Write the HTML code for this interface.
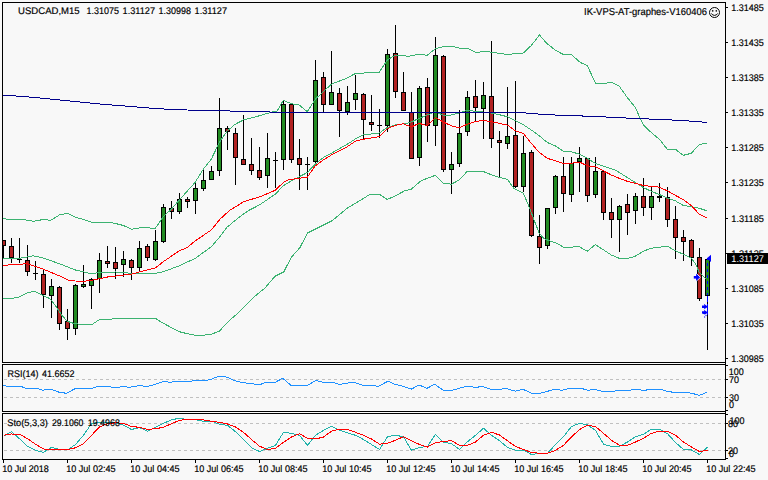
<!DOCTYPE html>
<html lang="en"><head><meta charset="utf-8"><title>USDCAD,M15</title>
<style>html,body{margin:0;padding:0;background:#f8f8f8;}body{width:768px;height:480px;overflow:hidden;}svg{display:block;}text{font-family:"Liberation Sans",sans-serif;font-size:9.6px;fill:#000;stroke:#000;stroke-width:0.18px;text-rendering:geometricPrecision;}</style>
</head><body>
<svg width="768" height="480" viewBox="0 0 768 480">
<rect x="0" y="0" width="768" height="480" fill="#f8f8f8"/>
<g shape-rendering="crispEdges">
<line x1="4" y1="379.5" x2="725" y2="379.5" stroke="#c0c0c0" stroke-width="1" stroke-dasharray="3 3"/>
<line x1="4" y1="397.5" x2="725" y2="397.5" stroke="#c0c0c0" stroke-width="1" stroke-dasharray="3 3"/>
<line x1="4" y1="423.5" x2="725" y2="423.5" stroke="#c0c0c0" stroke-width="1" stroke-dasharray="3 3"/>
<line x1="4" y1="450.5" x2="725" y2="450.5" stroke="#c0c0c0" stroke-width="1" stroke-dasharray="3 3"/>
<clipPath id="c"><rect x="3" y="3" width="722" height="359"/></clipPath>
<g clip-path="url(#c)">
<rect x="3" y="240" width="1" height="18" fill="#000"/>
<rect x="1" y="240" width="5" height="6" fill="#000"/>
<rect x="2" y="241" width="3" height="4" fill="#b22222"/>
<rect x="11" y="238" width="1" height="25" fill="#000"/>
<rect x="9" y="246" width="5" height="12" fill="#000"/>
<rect x="10" y="247" width="3" height="10" fill="#b22222"/>
<rect x="19" y="238" width="1" height="25" fill="#000"/>
<rect x="17" y="259" width="5" height="1" fill="#000"/>
<rect x="27" y="245" width="1" height="31" fill="#000"/>
<rect x="25" y="260" width="5" height="12" fill="#000"/>
<rect x="26" y="261" width="3" height="10" fill="#b22222"/>
<rect x="35" y="261" width="1" height="19" fill="#000"/>
<rect x="33" y="273" width="5" height="1" fill="#000"/>
<rect x="43" y="269" width="1" height="39" fill="#000"/>
<rect x="41" y="274" width="5" height="21" fill="#000"/>
<rect x="42" y="275" width="3" height="19" fill="#b22222"/>
<rect x="51" y="279" width="1" height="39" fill="#000"/>
<rect x="49" y="286" width="5" height="10" fill="#000"/>
<rect x="50" y="287" width="3" height="8" fill="#228b22"/>
<rect x="59" y="286" width="1" height="44" fill="#000"/>
<rect x="57" y="287" width="5" height="37" fill="#000"/>
<rect x="58" y="288" width="3" height="35" fill="#b22222"/>
<rect x="67" y="309" width="1" height="31" fill="#000"/>
<rect x="65" y="321" width="5" height="8" fill="#000"/>
<rect x="66" y="322" width="3" height="6" fill="#b22222"/>
<rect x="75" y="284" width="1" height="51" fill="#000"/>
<rect x="73" y="285" width="5" height="44" fill="#000"/>
<rect x="74" y="286" width="3" height="42" fill="#228b22"/>
<rect x="83" y="265" width="1" height="23" fill="#000"/>
<rect x="81" y="284" width="5" height="3" fill="#000"/>
<rect x="82" y="285" width="3" height="1" fill="#228b22"/>
<rect x="91" y="278" width="1" height="31" fill="#000"/>
<rect x="89" y="279" width="5" height="7" fill="#000"/>
<rect x="90" y="280" width="3" height="5" fill="#228b22"/>
<rect x="99" y="253" width="1" height="40" fill="#000"/>
<rect x="97" y="260" width="5" height="19" fill="#000"/>
<rect x="98" y="261" width="3" height="17" fill="#228b22"/>
<rect x="107" y="246" width="1" height="22" fill="#000"/>
<rect x="105" y="261" width="5" height="3" fill="#000"/>
<rect x="106" y="262" width="3" height="1" fill="#b22222"/>
<rect x="115" y="247" width="1" height="32" fill="#000"/>
<rect x="113" y="262" width="5" height="7" fill="#000"/>
<rect x="114" y="263" width="3" height="5" fill="#b22222"/>
<rect x="123" y="251" width="1" height="26" fill="#000"/>
<rect x="121" y="259" width="5" height="6" fill="#000"/>
<rect x="122" y="260" width="3" height="4" fill="#228b22"/>
<rect x="131" y="259" width="1" height="21" fill="#000"/>
<rect x="129" y="260" width="5" height="8" fill="#000"/>
<rect x="130" y="261" width="3" height="6" fill="#b22222"/>
<rect x="139" y="241" width="1" height="31" fill="#000"/>
<rect x="137" y="248" width="5" height="20" fill="#000"/>
<rect x="138" y="249" width="3" height="18" fill="#228b22"/>
<rect x="147" y="244" width="1" height="17" fill="#000"/>
<rect x="145" y="246" width="5" height="12" fill="#000"/>
<rect x="146" y="247" width="3" height="10" fill="#b22222"/>
<rect x="155" y="230" width="1" height="31" fill="#000"/>
<rect x="153" y="241" width="5" height="19" fill="#000"/>
<rect x="154" y="242" width="3" height="17" fill="#228b22"/>
<rect x="163" y="204" width="1" height="39" fill="#000"/>
<rect x="161" y="207" width="5" height="35" fill="#000"/>
<rect x="162" y="208" width="3" height="33" fill="#228b22"/>
<rect x="171" y="201" width="1" height="18" fill="#000"/>
<rect x="169" y="208" width="5" height="4" fill="#000"/>
<rect x="170" y="209" width="3" height="2" fill="#b22222"/>
<rect x="179" y="193" width="1" height="21" fill="#000"/>
<rect x="177" y="199" width="5" height="13" fill="#000"/>
<rect x="178" y="200" width="3" height="11" fill="#228b22"/>
<rect x="187" y="197" width="1" height="11" fill="#000"/>
<rect x="185" y="199" width="5" height="3" fill="#000"/>
<rect x="186" y="200" width="3" height="1" fill="#b22222"/>
<rect x="195" y="181" width="1" height="33" fill="#000"/>
<rect x="193" y="188" width="5" height="13" fill="#000"/>
<rect x="194" y="189" width="3" height="11" fill="#228b22"/>
<rect x="203" y="168" width="1" height="23" fill="#000"/>
<rect x="201" y="180" width="5" height="9" fill="#000"/>
<rect x="202" y="181" width="3" height="7" fill="#228b22"/>
<rect x="211" y="166" width="1" height="14" fill="#000"/>
<rect x="209" y="171" width="5" height="9" fill="#000"/>
<rect x="210" y="172" width="3" height="7" fill="#228b22"/>
<rect x="219" y="98" width="1" height="78" fill="#000"/>
<rect x="217" y="128" width="5" height="43" fill="#000"/>
<rect x="218" y="129" width="3" height="41" fill="#228b22"/>
<rect x="227" y="126" width="1" height="24" fill="#000"/>
<rect x="225" y="128" width="5" height="4" fill="#000"/>
<rect x="226" y="129" width="3" height="2" fill="#b22222"/>
<rect x="235" y="128" width="1" height="57" fill="#000"/>
<rect x="233" y="133" width="5" height="25" fill="#000"/>
<rect x="234" y="134" width="3" height="23" fill="#b22222"/>
<rect x="243" y="115" width="1" height="50" fill="#000"/>
<rect x="241" y="159" width="5" height="6" fill="#000"/>
<rect x="242" y="160" width="3" height="4" fill="#b22222"/>
<rect x="251" y="138" width="1" height="37" fill="#000"/>
<rect x="249" y="164" width="5" height="7" fill="#000"/>
<rect x="250" y="165" width="3" height="5" fill="#b22222"/>
<rect x="259" y="147" width="1" height="33" fill="#000"/>
<rect x="257" y="170" width="5" height="8" fill="#000"/>
<rect x="258" y="171" width="3" height="6" fill="#b22222"/>
<rect x="267" y="133" width="1" height="55" fill="#000"/>
<rect x="265" y="158" width="5" height="18" fill="#000"/>
<rect x="266" y="159" width="3" height="16" fill="#228b22"/>
<rect x="275" y="152" width="1" height="36" fill="#000"/>
<rect x="273" y="160" width="5" height="1" fill="#000"/>
<rect x="283" y="100" width="1" height="70" fill="#000"/>
<rect x="281" y="104" width="5" height="56" fill="#000"/>
<rect x="282" y="105" width="3" height="54" fill="#228b22"/>
<rect x="291" y="103" width="1" height="60" fill="#000"/>
<rect x="289" y="104" width="5" height="56" fill="#000"/>
<rect x="290" y="105" width="3" height="54" fill="#b22222"/>
<rect x="299" y="139" width="1" height="51" fill="#000"/>
<rect x="297" y="158" width="5" height="7" fill="#000"/>
<rect x="298" y="159" width="3" height="5" fill="#b22222"/>
<rect x="307" y="157" width="1" height="33" fill="#000"/>
<rect x="305" y="164" width="5" height="1" fill="#000"/>
<rect x="315" y="60" width="1" height="104" fill="#000"/>
<rect x="313" y="80" width="5" height="82" fill="#000"/>
<rect x="314" y="81" width="3" height="80" fill="#228b22"/>
<rect x="323" y="72" width="1" height="40" fill="#000"/>
<rect x="321" y="77" width="5" height="28" fill="#000"/>
<rect x="322" y="78" width="3" height="26" fill="#b22222"/>
<rect x="331" y="51" width="1" height="54" fill="#000"/>
<rect x="329" y="92" width="5" height="13" fill="#000"/>
<rect x="330" y="93" width="3" height="11" fill="#228b22"/>
<rect x="339" y="88" width="1" height="49" fill="#000"/>
<rect x="337" y="93" width="5" height="18" fill="#000"/>
<rect x="338" y="94" width="3" height="16" fill="#b22222"/>
<rect x="347" y="86" width="1" height="29" fill="#000"/>
<rect x="345" y="102" width="5" height="10" fill="#000"/>
<rect x="346" y="103" width="3" height="8" fill="#228b22"/>
<rect x="355" y="75" width="1" height="35" fill="#000"/>
<rect x="353" y="93" width="5" height="7" fill="#000"/>
<rect x="354" y="94" width="3" height="5" fill="#228b22"/>
<rect x="363" y="93" width="1" height="46" fill="#000"/>
<rect x="361" y="94" width="5" height="26" fill="#000"/>
<rect x="362" y="95" width="3" height="24" fill="#b22222"/>
<rect x="371" y="95" width="1" height="36" fill="#000"/>
<rect x="369" y="122" width="5" height="3" fill="#000"/>
<rect x="370" y="123" width="3" height="1" fill="#b22222"/>
<rect x="379" y="109" width="1" height="29" fill="#000"/>
<rect x="377" y="125" width="5" height="1" fill="#000"/>
<rect x="387" y="49" width="1" height="83" fill="#000"/>
<rect x="385" y="54" width="5" height="72" fill="#000"/>
<rect x="386" y="55" width="3" height="70" fill="#228b22"/>
<rect x="395" y="25" width="1" height="73" fill="#000"/>
<rect x="393" y="53" width="5" height="39" fill="#000"/>
<rect x="394" y="54" width="3" height="37" fill="#b22222"/>
<rect x="403" y="72" width="1" height="39" fill="#000"/>
<rect x="401" y="92" width="5" height="19" fill="#000"/>
<rect x="402" y="93" width="3" height="17" fill="#b22222"/>
<rect x="411" y="92" width="1" height="67" fill="#000"/>
<rect x="409" y="112" width="5" height="47" fill="#000"/>
<rect x="410" y="113" width="3" height="45" fill="#b22222"/>
<rect x="419" y="86" width="1" height="80" fill="#000"/>
<rect x="417" y="88" width="5" height="70" fill="#000"/>
<rect x="418" y="89" width="3" height="68" fill="#228b22"/>
<rect x="427" y="78" width="1" height="64" fill="#000"/>
<rect x="425" y="87" width="5" height="39" fill="#000"/>
<rect x="426" y="88" width="3" height="37" fill="#b22222"/>
<rect x="435" y="37" width="1" height="109" fill="#000"/>
<rect x="433" y="55" width="5" height="71" fill="#000"/>
<rect x="434" y="56" width="3" height="69" fill="#228b22"/>
<rect x="443" y="55" width="1" height="117" fill="#000"/>
<rect x="441" y="56" width="5" height="114" fill="#000"/>
<rect x="442" y="57" width="3" height="112" fill="#b22222"/>
<rect x="451" y="152" width="1" height="42" fill="#000"/>
<rect x="449" y="164" width="5" height="6" fill="#000"/>
<rect x="450" y="165" width="3" height="4" fill="#228b22"/>
<rect x="459" y="110" width="1" height="57" fill="#000"/>
<rect x="457" y="133" width="5" height="31" fill="#000"/>
<rect x="458" y="134" width="3" height="29" fill="#228b22"/>
<rect x="467" y="91" width="1" height="45" fill="#000"/>
<rect x="465" y="97" width="5" height="35" fill="#000"/>
<rect x="466" y="98" width="3" height="33" fill="#228b22"/>
<rect x="475" y="80" width="1" height="41" fill="#000"/>
<rect x="473" y="96" width="5" height="12" fill="#000"/>
<rect x="474" y="97" width="3" height="10" fill="#b22222"/>
<rect x="483" y="82" width="1" height="57" fill="#000"/>
<rect x="481" y="95" width="5" height="14" fill="#000"/>
<rect x="482" y="96" width="3" height="12" fill="#228b22"/>
<rect x="491" y="41" width="1" height="107" fill="#000"/>
<rect x="489" y="96" width="5" height="43" fill="#000"/>
<rect x="490" y="97" width="3" height="41" fill="#b22222"/>
<rect x="499" y="131" width="1" height="47" fill="#000"/>
<rect x="497" y="140" width="5" height="3" fill="#000"/>
<rect x="498" y="141" width="3" height="1" fill="#b22222"/>
<rect x="507" y="87" width="1" height="62" fill="#000"/>
<rect x="505" y="136" width="5" height="8" fill="#000"/>
<rect x="506" y="137" width="3" height="6" fill="#228b22"/>
<rect x="515" y="81" width="1" height="107" fill="#000"/>
<rect x="513" y="135" width="5" height="52" fill="#000"/>
<rect x="514" y="136" width="3" height="50" fill="#b22222"/>
<rect x="523" y="136" width="1" height="56" fill="#000"/>
<rect x="521" y="153" width="5" height="34" fill="#000"/>
<rect x="522" y="154" width="3" height="32" fill="#228b22"/>
<rect x="531" y="150" width="1" height="87" fill="#000"/>
<rect x="529" y="152" width="5" height="84" fill="#000"/>
<rect x="530" y="153" width="3" height="82" fill="#b22222"/>
<rect x="539" y="215" width="1" height="49" fill="#000"/>
<rect x="537" y="236" width="5" height="12" fill="#000"/>
<rect x="538" y="237" width="3" height="10" fill="#b22222"/>
<rect x="547" y="208" width="1" height="41" fill="#000"/>
<rect x="545" y="208" width="5" height="38" fill="#000"/>
<rect x="546" y="209" width="3" height="36" fill="#228b22"/>
<rect x="555" y="175" width="1" height="39" fill="#000"/>
<rect x="553" y="176" width="5" height="32" fill="#000"/>
<rect x="554" y="177" width="3" height="30" fill="#228b22"/>
<rect x="563" y="157" width="1" height="55" fill="#000"/>
<rect x="561" y="176" width="5" height="18" fill="#000"/>
<rect x="562" y="177" width="3" height="16" fill="#b22222"/>
<rect x="571" y="157" width="1" height="45" fill="#000"/>
<rect x="569" y="163" width="5" height="32" fill="#000"/>
<rect x="570" y="164" width="3" height="30" fill="#228b22"/>
<rect x="579" y="147" width="1" height="45" fill="#000"/>
<rect x="577" y="158" width="5" height="4" fill="#000"/>
<rect x="578" y="159" width="3" height="2" fill="#228b22"/>
<rect x="587" y="158" width="1" height="44" fill="#000"/>
<rect x="585" y="158" width="5" height="38" fill="#000"/>
<rect x="586" y="159" width="3" height="36" fill="#b22222"/>
<rect x="595" y="157" width="1" height="41" fill="#000"/>
<rect x="593" y="171" width="5" height="24" fill="#000"/>
<rect x="594" y="172" width="3" height="22" fill="#228b22"/>
<rect x="603" y="170" width="1" height="50" fill="#000"/>
<rect x="601" y="171" width="5" height="42" fill="#000"/>
<rect x="602" y="172" width="3" height="40" fill="#b22222"/>
<rect x="611" y="198" width="1" height="40" fill="#000"/>
<rect x="609" y="212" width="5" height="8" fill="#000"/>
<rect x="610" y="213" width="3" height="6" fill="#b22222"/>
<rect x="619" y="205" width="1" height="47" fill="#000"/>
<rect x="617" y="206" width="5" height="14" fill="#000"/>
<rect x="618" y="207" width="3" height="12" fill="#228b22"/>
<rect x="627" y="194" width="1" height="41" fill="#000"/>
<rect x="625" y="204" width="5" height="9" fill="#000"/>
<rect x="626" y="205" width="3" height="7" fill="#b22222"/>
<rect x="635" y="193" width="1" height="31" fill="#000"/>
<rect x="633" y="196" width="5" height="15" fill="#000"/>
<rect x="634" y="197" width="3" height="13" fill="#228b22"/>
<rect x="643" y="178" width="1" height="38" fill="#000"/>
<rect x="641" y="196" width="5" height="12" fill="#000"/>
<rect x="642" y="197" width="3" height="10" fill="#b22222"/>
<rect x="651" y="187" width="1" height="33" fill="#000"/>
<rect x="649" y="196" width="5" height="12" fill="#000"/>
<rect x="650" y="197" width="3" height="10" fill="#228b22"/>
<rect x="659" y="183" width="1" height="19" fill="#000"/>
<rect x="657" y="196" width="5" height="2" fill="#000"/>
<rect x="667" y="187" width="1" height="40" fill="#000"/>
<rect x="665" y="197" width="5" height="23" fill="#000"/>
<rect x="666" y="198" width="3" height="21" fill="#b22222"/>
<rect x="675" y="206" width="1" height="53" fill="#000"/>
<rect x="673" y="219" width="5" height="19" fill="#000"/>
<rect x="674" y="220" width="3" height="17" fill="#b22222"/>
<rect x="683" y="230" width="1" height="31" fill="#000"/>
<rect x="681" y="237" width="5" height="5" fill="#000"/>
<rect x="682" y="238" width="3" height="3" fill="#b22222"/>
<rect x="691" y="239" width="1" height="27" fill="#000"/>
<rect x="689" y="240" width="5" height="18" fill="#000"/>
<rect x="690" y="241" width="3" height="16" fill="#b22222"/>
<rect x="699" y="248" width="1" height="53" fill="#000"/>
<rect x="697" y="257" width="5" height="42" fill="#000"/>
<rect x="698" y="258" width="3" height="40" fill="#b22222"/>
<rect x="707" y="258" width="1" height="92" fill="#000"/>
<rect x="705" y="259" width="5" height="37" fill="#000"/>
<rect x="706" y="260" width="3" height="35" fill="#228b22"/>
<polyline points="3.3,218.3 8.3,219.5 23.3,219.5 33.3,221.3 43.3,219.5 50.8,220.3 59.3,215.0 67.3,213.3 75.3,217.2 83.3,219.5 91.3,222.2 110.0,222.2 118.3,224.2 123.5,225.5 131.7,229.2 141.7,227.5 155.3,228.3 163.3,216.7 171.3,209.2 179.3,200.0 195.0,182.5 203.3,169.2 211.3,159.2 219.3,142.5 227.3,130.8 235.3,124.2 243.3,120.0 259.3,115.8 272.0,112.0 277.0,111.3 283.3,100.3 291.3,103.7 299.3,105.0 307.3,111.7 315.3,99.2 323.3,91.7 331.3,84.2 347.3,78.0 355.3,73.5 379.3,72.2 387.3,60.0 395.3,55.0 408.7,56.3 419.3,54.2 427.3,55.3 435.3,48.7 442.0,47.0 451.3,46.2 459.3,48.0 468.7,48.7 476.2,52.5 485.3,51.3 497.0,53.0 507.0,54.5 523.3,53.0 531.3,45.5 539.5,35.0 544.5,40.8 548.7,45.0 555.3,50.0 563.3,54.5 571.3,54.5 580.3,62.5 587.3,65.5 595.3,83.0 605.3,83.3 611.3,82.2 619.3,86.3 627.3,97.5 635.3,107.5 643.3,125.0 651.3,132.5 659.3,139.2 667.3,149.2 675.3,149.2 683.3,155.3 691.3,153.3 699.3,144.5 707.0,143.3" fill="none" stroke="#3cb371" stroke-width="1"/>
<polyline points="3.3,298.3 14.2,298.0 20.0,296.7 27.5,292.8 34.5,291.2 41.7,295.0 50.0,298.7 55.0,305.0 61.7,315.0 67.3,321.3 73.3,323.3 81.7,324.7 91.3,325.0 99.5,319.5 116.7,318.8 128.0,318.3 155.3,318.3 163.3,323.3 171.3,327.5 179.3,331.7 187.3,333.7 195.3,335.3 203.3,335.3 211.3,334.2 219.3,331.2 225.0,325.0 230.0,320.0 236.7,314.2 243.3,308.0 255.0,296.2 265.0,288.0 275.0,276.2 283.8,271.8 291.2,257.5 300.0,247.5 307.5,233.0 320.0,226.8 332.5,220.5 347.5,208.0 357.5,202.0 370.3,194.2 379.3,194.2 387.3,199.5 395.3,195.8 405.3,190.5 411.3,189.2 421.0,180.8 427.3,178.3 435.3,175.3 443.3,183.3 451.3,184.2 459.3,180.0 467.3,171.3 483.7,171.7 491.3,174.7 499.3,177.5 507.3,179.2 513.7,188.3 523.3,193.3 528.7,205.8 535.3,223.3 539.3,233.3 543.7,238.3 550.3,241.3 555.3,242.5 563.3,247.0 573.3,247.0 578.3,246.2 587.3,251.2 595.3,244.7 603.3,249.7 611.3,255.0 619.3,258.3 628.3,258.3 635.3,256.2 643.3,251.2 651.3,248.3 667.3,246.2 675.3,250.8 683.3,254.2 691.3,258.3 695.3,263.3 699.3,272.5 705.3,278.3 707.3,277.5" fill="none" stroke="#3cb371" stroke-width="1"/>
<polyline points="3.3,258.7 19.5,258.3 33.3,255.8 43.3,258.0 59.3,263.7 75.5,270.0 91.3,273.7 99.5,272.5 115.5,272.0 128.0,273.0 136.7,273.3 155.3,273.3 163.3,271.7 179.3,265.8 195.3,258.3 211.3,246.7 220.0,236.7 226.7,227.5 236.7,219.2 248.0,210.8 259.3,205.0 275.3,194.2 283.3,185.8 291.3,180.8 299.3,176.7 307.3,172.5 315.3,164.2 323.3,157.5 331.3,153.3 347.3,144.2 355.3,139.0 363.3,135.0 379.3,133.0 387.3,127.5 395.3,125.0 407.0,123.3 411.3,122.0 419.3,118.3 427.3,115.0 435.3,111.7 443.3,115.3 451.3,115.0 459.3,113.0 467.3,110.3 475.3,111.3 483.3,112.0 491.3,113.0 499.3,114.7 507.3,116.7 515.3,120.8 523.3,124.7 531.3,130.0 539.3,135.8 547.3,142.5 555.3,145.8 563.3,151.2 571.3,151.7 579.3,154.2 587.3,158.3 595.3,163.3 603.3,166.0 615.3,170.0 627.3,177.5 635.3,182.5 643.3,187.5 651.3,191.3 659.3,194.5 667.3,198.0 675.3,200.8 683.3,205.5 691.3,206.7 699.3,208.3 707.0,210.8" fill="none" stroke="#3cb371" stroke-width="1"/>
<polyline points="3.3,265.3 27.5,263.7 43.3,269.2 59.3,275.8 70.0,280.8 83.3,281.3 91.3,280.3 99.5,278.7 107.5,277.0 120.0,275.5 131.3,274.2 139.3,272.0 155.3,268.0 163.3,261.7 179.3,250.8 187.3,247.5 195.3,240.8 211.3,230.0 220.0,219.2 230.0,210.0 240.0,204.2 243.3,201.7 259.3,197.0 275.3,190.3 283.3,182.5 288.7,179.7 299.3,178.3 307.3,177.2 315.3,165.8 323.3,160.0 331.3,155.0 347.3,146.7 355.3,141.3 363.3,139.2 379.3,136.7 387.3,128.7 395.3,125.3 403.3,123.8 411.3,127.0 419.3,123.3 427.3,125.8 435.3,117.5 443.3,122.0 451.3,125.8 459.3,127.8 467.3,124.2 475.3,121.7 483.3,120.3 491.3,121.7 507.3,125.0 515.3,130.8 523.3,133.3 531.3,143.3 539.3,152.5 547.3,158.3 555.3,160.8 563.3,163.3 571.3,163.3 579.3,162.0 587.3,165.8 595.3,166.7 603.3,170.8 611.3,175.0 619.3,178.3 627.3,181.3 635.3,183.3 643.3,185.5 651.3,186.3 659.3,187.2 667.3,190.8 675.3,195.3 683.3,199.7 691.3,205.5 699.3,214.2 707.0,217.8" fill="none" stroke="#ff0000" stroke-width="1"/>
<polyline points="3.0,95.0 33.0,97.3 67.0,100.7 100.0,104.0 133.0,106.7 157.0,108.7 187.0,110.0 220.0,110.6 240.0,111.4 289.0,112.4 520.0,112.5 535.0,113.8 560.0,115.3 592.0,116.3 616.0,117.5 640.0,118.7 663.7,119.5 680.0,120.5 695.0,121.3 707.0,122.5" fill="none" stroke="#00008b" stroke-width="1"/>
</g>
<line x1="707.5" y1="259" x2="707.5" y2="295" stroke="#0000ff" stroke-width="1" stroke-dasharray="3 3" stroke-dashoffset="2"/>
<rect x="707" y="296" width="1" height="6" fill="#0000ff"/>
<rect x="707" y="304" width="1" height="10" fill="#0000ff"/>
</g>
<polygon points="706.6,258.4 711,254.8 711,262" fill="#0000ff"/>
<polygon points="696,273.2 700.4,277.3 696,281.4" fill="#0000ff" stroke="#fff" stroke-width="1"/>
<rect x="693.8" y="276" width="3.2" height="2.6" fill="#0000ff"/>
<polygon points="696.2,273.8 699.8,277.3 696.2,280.8" fill="#0000ff"/>
<polygon points="702,305.4 704.4,305.4 703.8,303.8 708,306.7 703.8,309.6 704.4,308 702,308" fill="#0000ff"/>
<polygon points="702,311.2 704.4,311.2 703.8,309.8 708,312.4 705,314.4 702,313.6" fill="#0000ff"/>
<line x1="707.8" y1="313.8" x2="703.8" y2="317.8" stroke="#0000ff" stroke-width="1.2" stroke-dasharray="1 1"/>
<g shape-rendering="crispEdges">
<polyline points="3.3,385.3 8.3,386.5 21.7,386.7 25.8,388.2 37.5,388.7 43.3,390.3 47.5,389.2 53.3,390.0 59.2,392.3 66.7,393.3 75.0,388.7 91.7,388.3 98.3,386.5 108.3,386.5 113.3,387.3 118.3,387.3 123.3,386.3 128.0,387.3 134.7,386.7 139.7,385.3 146.3,386.7 153.0,385.0 158.0,383.3 163.8,381.5 169.7,382.3 176.3,381.5 189.7,381.5 194.7,380.3 206.3,380.3 211.3,379.2 218.0,376.5 223.0,376.2 228.0,377.5 234.7,380.7 241.3,382.3 248.0,383.3 256.0,384.2 261.0,384.2 266.0,382.3 275.2,382.3 282.7,378.3 291.0,385.3 307.7,385.3 316.0,380.3 322.7,382.3 333.5,382.3 339.3,384.5 346.0,383.3 354.3,382.3 362.7,385.3 372.7,385.3 378.5,386.5 384.0,383.3 388.2,381.2 394.8,384.2 403.2,386.2 411.2,389.2 419.0,385.0 427.0,388.3 434.8,384.2 443.2,390.3 452.3,390.3 459.0,388.3 465.7,386.5 470.7,386.5 474.8,387.5 482.3,386.5 490.7,389.2 500.7,389.2 505.7,388.3 512.0,390.3 515.3,391.2 522.8,389.2 532.0,393.3 540.3,393.3 547.8,391.2 555.3,389.2 562.0,390.3 570.3,388.3 581.2,388.3 587.8,390.3 594.5,389.2 602.8,391.5 613.7,391.5 616.2,390.3 630.0,390.3 632.5,389.2 639.2,389.2 641.7,390.3 645.8,390.3 648.3,389.2 660.8,389.2 666.7,391.2 673.3,392.3 686.7,392.3 693.3,393.7 699.5,395.3 707.0,392.3" fill="none" stroke="#1e90ff" stroke-width="1"/>
<polyline points="3.5,436.2 11.5,431.7 19.5,438.7 27.5,446.2 35.5,450.3 43.5,452.3 51.5,447.3 59.5,449.5 67.5,450.0 75.5,444.5 83.5,435.3 91.5,423.7 99.5,422.3 107.5,422.3 115.5,422.3 123.5,425.3 131.5,429.5 139.5,427.5 147.5,431.2 155.5,427.3 163.5,423.3 171.5,419.8 179.5,418.2 187.5,419.8 195.5,419.8 203.5,421.2 211.5,421.2 219.5,424.2 227.5,425.3 235.5,431.7 243.5,439.5 251.5,447.8 259.5,451.5 267.5,448.3 275.5,445.3 283.5,432.3 291.5,433.3 299.5,435.3 307.5,445.3 315.5,435.3 323.5,430.3 331.5,426.2 339.5,430.0 347.5,432.8 355.5,435.3 363.5,439.5 371.5,444.5 379.5,449.5 387.5,436.7 395.5,435.3 403.5,436.7 411.5,450.3 419.5,447.5 427.5,446.5 435.5,434.2 443.5,442.3 451.5,443.7 459.5,449.5 467.5,441.7 475.5,435.3 483.5,428.2 491.5,435.3 499.5,440.7 507.5,447.5 515.5,450.3 523.5,450.3 531.5,454.5 539.5,453.3 547.5,453.3 555.5,444.5 563.5,436.7 571.5,426.5 579.5,423.3 587.5,425.0 595.5,430.3 603.5,444.2 611.5,446.5 619.5,446.2 627.5,442.0 635.5,436.7 643.5,434.2 651.5,429.2 659.5,429.2 667.5,433.7 675.5,442.5 683.5,449.5 691.5,450.0 699.5,454.5 707.5,447.0" fill="none" stroke="#20b2aa" stroke-width="1"/>
<polyline points="3.5,435.3 11.5,434.0 19.5,434.2 27.5,438.7 35.5,444.2 43.5,449.0 51.5,449.5 59.5,449.5 67.5,449.5 75.5,447.8 83.5,443.7 91.5,435.3 99.5,427.0 107.5,423.7 115.5,422.8 123.5,423.3 131.5,426.5 139.5,427.3 147.5,429.5 155.5,428.7 163.5,427.3 171.5,423.7 179.5,420.3 187.5,419.2 195.5,419.2 203.5,420.0 211.5,421.2 219.5,422.3 227.5,424.0 235.5,427.0 243.5,432.3 251.5,439.5 259.5,446.2 267.5,449.5 275.5,448.3 283.5,442.3 291.5,437.0 299.5,433.7 307.5,438.2 315.5,439.0 323.5,437.0 331.5,431.2 339.5,429.2 347.5,429.5 355.5,432.3 363.5,435.3 371.5,439.0 379.5,444.2 387.5,443.2 395.5,440.3 403.5,436.7 411.5,440.7 419.5,444.5 427.5,447.0 435.5,442.8 443.5,441.5 451.5,440.7 459.5,445.3 467.5,445.3 475.5,442.0 483.5,435.3 491.5,432.3 499.5,435.0 507.5,440.8 515.5,446.5 523.5,449.5 531.5,452.5 539.5,453.3 547.5,453.3 555.5,450.3 563.5,445.3 571.5,437.0 579.5,429.5 587.5,425.3 595.5,426.5 603.5,433.3 611.5,440.3 619.5,445.3 627.5,445.3 635.5,442.0 643.5,438.2 651.5,433.3 659.5,431.2 667.5,431.2 675.5,435.3 683.5,442.0 691.5,447.0 699.5,451.5 707.5,450.3" fill="none" stroke="#ff0000" stroke-width="1"/>
<rect x="2" y="2" width="724" height="1" fill="#000"/>
<rect x="2" y="2" width="1" height="361" fill="#000"/>
<rect x="2" y="362" width="724" height="1" fill="#000"/>
<rect x="2" y="364" width="724" height="1" fill="#000"/>
<rect x="2" y="364" width="1" height="48" fill="#000"/>
<rect x="2" y="411" width="724" height="1" fill="#000"/>
<rect x="2" y="413" width="724" height="1" fill="#000"/>
<rect x="2" y="413" width="1" height="47" fill="#000"/>
<rect x="2" y="459" width="724" height="1" fill="#000"/>
<rect x="725" y="2" width="1" height="458" fill="#000"/>
<rect x="726" y="7" width="2" height="1" fill="#000"/>
<rect x="726" y="42" width="2" height="1" fill="#000"/>
<rect x="726" y="77" width="2" height="1" fill="#000"/>
<rect x="726" y="112" width="2" height="1" fill="#000"/>
<rect x="726" y="147" width="2" height="1" fill="#000"/>
<rect x="726" y="182" width="2" height="1" fill="#000"/>
<rect x="726" y="218" width="2" height="1" fill="#000"/>
<rect x="726" y="253" width="2" height="1" fill="#000"/>
<rect x="726" y="288" width="2" height="1" fill="#000"/>
<rect x="726" y="323" width="2" height="1" fill="#000"/>
<rect x="726" y="358" width="2" height="1" fill="#000"/>
<rect x="726" y="365" width="2" height="1" fill="#000"/>
<rect x="726" y="379" width="2" height="1" fill="#000"/>
<rect x="726" y="397" width="2" height="1" fill="#000"/>
<rect x="726" y="410" width="2" height="1" fill="#000"/>
<rect x="726" y="414" width="2" height="1" fill="#000"/>
<rect x="726" y="423" width="2" height="1" fill="#000"/>
<rect x="726" y="450" width="2" height="1" fill="#000"/>
<rect x="726" y="458" width="2" height="1" fill="#000"/>
<rect x="3" y="460" width="1" height="3" fill="#000"/>
<rect x="67" y="460" width="1" height="3" fill="#000"/>
<rect x="131" y="460" width="1" height="3" fill="#000"/>
<rect x="195" y="460" width="1" height="3" fill="#000"/>
<rect x="259" y="460" width="1" height="3" fill="#000"/>
<rect x="323" y="460" width="1" height="3" fill="#000"/>
<rect x="387" y="460" width="1" height="3" fill="#000"/>
<rect x="451" y="460" width="1" height="3" fill="#000"/>
<rect x="515" y="460" width="1" height="3" fill="#000"/>
<rect x="579" y="460" width="1" height="3" fill="#000"/>
<rect x="643" y="460" width="1" height="3" fill="#000"/>
<rect x="707" y="460" width="1" height="3" fill="#000"/>
</g>
<text x="18.1" y="14" textLength="61.6" lengthAdjust="spacingAndGlyphs">USDCAD,M15</text>
<text x="86.6" y="14" textLength="32.4" lengthAdjust="spacingAndGlyphs">1.31075</text>
<text x="122.6" y="14" textLength="32.4" lengthAdjust="spacingAndGlyphs">1.31127</text>
<text x="158.6" y="14" textLength="32.4" lengthAdjust="spacingAndGlyphs">1.30998</text>
<text x="194.6" y="14" textLength="32.4" lengthAdjust="spacingAndGlyphs">1.31127</text>
<text x="584.1" y="15" textLength="122.8" lengthAdjust="spacingAndGlyphs" style="font-size:10px">IK-VPS-AT-graphes-V160406</text>
<circle cx="714.5" cy="12.5" r="5.0" fill="none" stroke="#000" stroke-width="1"/>
<circle cx="712.7" cy="10.9" r="0.8" fill="#000"/><circle cx="716.3" cy="10.9" r="0.8" fill="#000"/>
<path d="M711.3 13.6 Q714.5 17.2 717.7 13.6" fill="none" stroke="#000" stroke-width="1"/>
<text x="731.3" y="11" textLength="32.6" lengthAdjust="spacingAndGlyphs">1.31485</text>
<text x="731.3" y="46" textLength="32.6" lengthAdjust="spacingAndGlyphs">1.31435</text>
<text x="731.3" y="81" textLength="32.6" lengthAdjust="spacingAndGlyphs">1.31385</text>
<text x="731.3" y="116" textLength="32.6" lengthAdjust="spacingAndGlyphs">1.31335</text>
<text x="731.3" y="151" textLength="32.6" lengthAdjust="spacingAndGlyphs">1.31285</text>
<text x="731.3" y="186" textLength="32.6" lengthAdjust="spacingAndGlyphs">1.31235</text>
<text x="731.3" y="222" textLength="32.6" lengthAdjust="spacingAndGlyphs">1.31185</text>
<text x="731.3" y="257" textLength="32.6" lengthAdjust="spacingAndGlyphs">1.31135</text>
<text x="731.3" y="292" textLength="32.6" lengthAdjust="spacingAndGlyphs">1.31085</text>
<text x="731.3" y="327" textLength="32.6" lengthAdjust="spacingAndGlyphs">1.31035</text>
<text x="731.3" y="362" textLength="32.6" lengthAdjust="spacingAndGlyphs">1.30985</text>
<rect x="727" y="253" width="41" height="11" fill="#000" shape-rendering="crispEdges"/>
<text x="731.3" y="262" textLength="32.6" lengthAdjust="spacingAndGlyphs" style="fill:#fff;stroke:none">1.31127</text>
<text x="7.5" y="377" textLength="31" lengthAdjust="spacingAndGlyphs">RSI(14)</text>
<text x="42.1" y="377" textLength="32.4" lengthAdjust="spacingAndGlyphs">41.6652</text>
<text x="728.7" y="375" textLength="15" lengthAdjust="spacingAndGlyphs">100</text>
<text x="728.9" y="383" textLength="10" lengthAdjust="spacingAndGlyphs">70</text>
<text x="728.9" y="401" textLength="10" lengthAdjust="spacingAndGlyphs">30</text>
<text x="729.1" y="408" textLength="5" lengthAdjust="spacingAndGlyphs">0</text>
<text x="7.3" y="426" textLength="40.6" lengthAdjust="spacingAndGlyphs">Sto(5,3,3)</text>
<text x="51.9" y="426" textLength="31.6" lengthAdjust="spacingAndGlyphs">29.1060</text>
<text x="87.7" y="426" textLength="32.2" lengthAdjust="spacingAndGlyphs">19.4968</text>
<text x="729.5" y="424" textLength="15" lengthAdjust="spacingAndGlyphs">100</text>
<text x="728" y="427" textLength="10" lengthAdjust="spacingAndGlyphs">80</text>
<text x="728" y="454" textLength="10" lengthAdjust="spacingAndGlyphs">20</text>
<text x="729.1" y="457" textLength="5" lengthAdjust="spacingAndGlyphs">0</text>
<text x="2.2" y="472" textLength="46.6" lengthAdjust="spacingAndGlyphs">10 Jul 2018</text>
<text x="66.2" y="472" textLength="49.4" lengthAdjust="spacingAndGlyphs">10 Jul 02:45</text>
<text x="130.2" y="472" textLength="49.4" lengthAdjust="spacingAndGlyphs">10 Jul 04:45</text>
<text x="194.2" y="472" textLength="49.4" lengthAdjust="spacingAndGlyphs">10 Jul 06:45</text>
<text x="258.2" y="472" textLength="49.4" lengthAdjust="spacingAndGlyphs">10 Jul 08:45</text>
<text x="322.2" y="472" textLength="49.4" lengthAdjust="spacingAndGlyphs">10 Jul 10:45</text>
<text x="386.2" y="472" textLength="49.4" lengthAdjust="spacingAndGlyphs">10 Jul 12:45</text>
<text x="450.2" y="472" textLength="49.4" lengthAdjust="spacingAndGlyphs">10 Jul 14:45</text>
<text x="514.2" y="472" textLength="49.4" lengthAdjust="spacingAndGlyphs">10 Jul 16:45</text>
<text x="578.2" y="472" textLength="49.4" lengthAdjust="spacingAndGlyphs">10 Jul 18:45</text>
<text x="642.2" y="472" textLength="49.4" lengthAdjust="spacingAndGlyphs">10 Jul 20:45</text>
<text x="706.2" y="472" textLength="49.4" lengthAdjust="spacingAndGlyphs">10 Jul 22:45</text>
</svg></body></html>
